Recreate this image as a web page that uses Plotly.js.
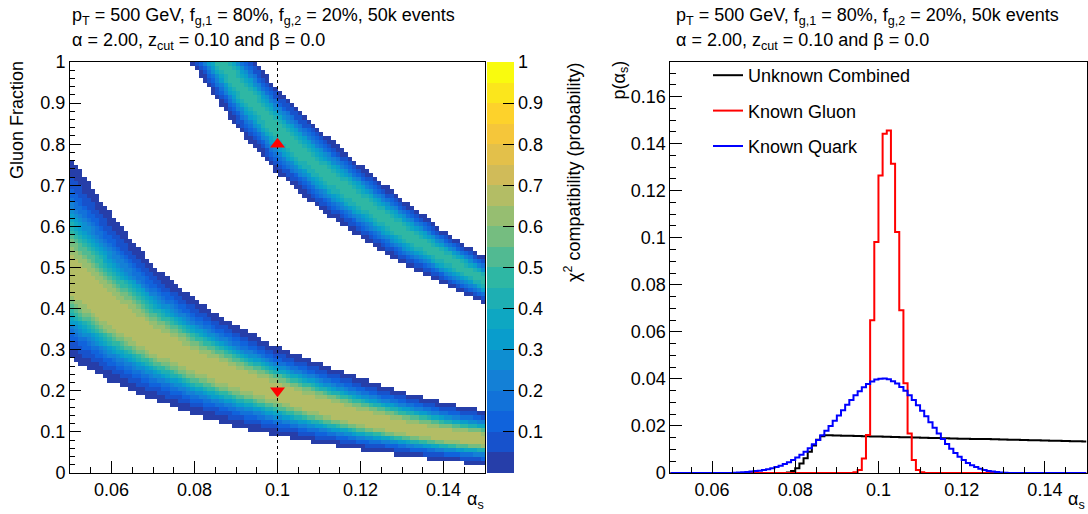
<!DOCTYPE html>
<html><head><meta charset="utf-8">
<script src="https://cdn.plot.ly/plotly-3.0.1.min.js"></script>
<style>html,body{margin:0;padding:0;background:#fff;}#chart{width:1088px;height:514px;}</style>
</head><body><div id="chart"></div>
<script>
// ---------------- data ----------------
// right panel: p(alpha_s) histograms, 100 bins on [0.05, 0.15]
const histRange = [0.05, 0.15];
const histBinCount = 100;

const combinedStartBin = 28;   // Unknown Combined (black)
const combinedValues = [
  0.0002,0.0008,0.0020,0.0040,0.0063,0.0090,0.0117,0.0141,0.0156,
  0.0160,0.0160,0.0159,0.0159,0.0158,0.0158,0.0158,0.0157,0.0157,0.0156,
  0.0156,0.0155,0.0155,0.0155,0.0154,0.0154,0.0153,0.0153,0.0152,0.0152,
  0.0152,0.0151,0.0151,0.0150,0.0150,0.0149,0.0149,0.0149,0.0148,0.0148,
  0.0147,0.0147,0.0146,0.0146,0.0146,0.0145,0.0145,0.0144,0.0144,0.0144,
  0.0143,0.0143,0.0142,0.0142,0.0141,0.0141,0.0141,0.0140,0.0140,0.0139,
  0.0139,0.0139,0.0138,0.0138,0.0137,0.0137,0.0137,0.0136,0.0136,0.0135,
  0.0135,0.0135,0.0134
];

const gluonStartBin = 44;      // Known Gluon (red)
const gluonValues = [
  0.0003,0.0013,0.0062,0.0161,0.0649,0.0982,0.1265,0.1442,0.1456,
  0.1315,0.1024,0.0692,0.0381,0.0168,0.0055,0.0013,0.0003
];

const quarkStartBin = 15;      // Known Quark (blue)
const quarkValues = [
  0.0001,0.0002,0.0003,0.0004,0.0006,0.0008,0.0010,0.0013,0.0016,0.0020,
  0.0025,0.0031,0.0038,0.0046,0.0055,0.0066,0.0078,0.0090,0.0105,0.0122,
  0.0140,0.0160,0.0180,0.0200,0.0222,0.0244,0.0267,0.0290,0.0310,0.0330,
  0.0348,0.0364,0.0378,0.0389,0.0397,0.0401,0.0402,0.0398,0.0390,0.0380,
  0.0366,0.0350,0.0331,0.0310,0.0288,0.0265,0.0241,0.0216,0.0192,0.0168,
  0.0145,0.0123,0.0103,0.0085,0.0069,0.0055,0.0043,0.0033,0.0025,0.0018,
  0.0013,0.0009,0.0006,0.0004,0.0002,0.0001
];

const legendNames = ['Unknown Combined', 'Known Gluon', 'Known Quark'];

// left panel: chi2 compatibility map, 100 x 100 bins
const mapAlphaRange = [0.05, 0.15];
const mapFracRange = [0, 1];
const mapAlphaBins = 100;
const mapFracBins = 100;
// band geometry read at these alpha_s values (edges where the map becomes empty, and ridge)
const bandAlpha       = [0.05, 0.06, 0.07, 0.08, 0.09, 0.10, 0.11, 0.12, 0.13, 0.14, 0.15];
const lowerBandTop    = [0.770,0.630,0.506,0.423,0.358,0.307,0.268,0.230,0.199,0.172,0.150];
const lowerBandRidge  = [0.475,0.385,0.320,0.270,0.230,0.195,0.162,0.133,0.110,0.092,0.080];
const lowerBandBottom = [0.279,0.222,0.178,0.142,0.113,0.090,0.071,0.055,0.042,0.030,0.020];
const upperBandTop    = [2.00, 1.70, 1.42, 1.20, 1.06, 0.936,0.838,0.750,0.668,0.590,0.523];
const upperBandRidge  = [1.80, 1.54, 1.29, 1.09, 0.95, 0.833,0.740,0.662,0.588,0.525,0.467];
const upperBandBottom = [1.60, 1.38, 1.17, 0.985,0.843,0.729,0.642,0.573,0.508,0.459,0.411];
const lowerBandPeak = 0.695;
const upperBandPeak = 0.47;
const bandEdgeProb = 0.015;
const bandShape = 2.5;

const trueAlpha = 0.1;
const trueFractions = [0.8, 0.2];

const leftXTicks = [0.06, 0.08, 0.1, 0.12, 0.14];
const leftYTicks = [0, 0.1, 0.2, 0.3, 0.4, 0.5, 0.6, 0.7, 0.8, 0.9, 1];
const rightYTicks = [0, 0.02, 0.04, 0.06, 0.08, 0.1, 0.12, 0.14, 0.16];
const colorTicks = [0.1, 0.2, 0.3, 0.4, 0.5, 0.6, 0.7, 0.8, 0.9, 1];
const colorLevels = 20;

// ROOT kBird palette
const birdStops = [0.0000, 0.1250, 0.2500, 0.3750, 0.5000, 0.6250, 0.7500, 0.8750, 1.0000];
const birdR = [0.2082, 0.0592, 0.0780, 0.0232, 0.1802, 0.5301, 0.8186, 0.9956, 0.9764];
const birdG = [0.1664, 0.3599, 0.5041, 0.6419, 0.7178, 0.7492, 0.7328, 0.7862, 0.9832];
const birdB = [0.5293, 0.8684, 0.8385, 0.7914, 0.6425, 0.4662, 0.3499, 0.1968, 0.0539];

// ---------------- build ----------------
function lin(xs, ys, x) {
  if (x <= xs[0]) return ys[0];
  for (let k = 1; k < xs.length; k++) {
    if (x <= xs[k]) { const t = (x - xs[k-1]) / (xs[k] - xs[k-1]); return ys[k-1] + t * (ys[k] - ys[k-1]); }
  }
  return ys[ys.length - 1];
}
function birdColor(v) {
  const r = lin(birdStops, birdR, v), g = lin(birdStops, birdG, v), b = lin(birdStops, birdB, v);
  return 'rgb(' + Math.round(r*255) + ',' + Math.round(g*255) + ',' + Math.round(b*255) + ')';
}
const colorscale = [];
for (let i = 0; i < colorLevels; i++) {
  const c = birdColor((i + 0.99) / colorLevels);
  colorscale.push([i / colorLevels, c]);
  colorscale.push([(i + 1) / colorLevels, c]);
}

function bandValue(f, top, ridge, bottom, peak) {
  const t = f >= ridge ? (f - ridge) / (top - ridge) : (ridge - f) / (ridge - bottom);
  if (t > 1) return null;
  const k = Math.log(peak / bandEdgeProb);
  return peak * Math.exp(-k * Math.pow(t, bandShape));
}
const aw = (mapAlphaRange[1] - mapAlphaRange[0]) / mapAlphaBins;
const fw = (mapFracRange[1] - mapFracRange[0]) / mapFracBins;
const mapX = [], mapY = [];
for (let i = 0; i < mapAlphaBins; i++) mapX.push(mapAlphaRange[0] + (i + 0.5) * aw);
for (let j = 0; j < mapFracBins; j++) mapY.push(mapFracRange[0] + (j + 0.5) * fw);
const mapZ = mapY.map(f => mapX.map(a => {
  const lo = bandValue(f, lin(bandAlpha, lowerBandTop, a), lin(bandAlpha, lowerBandRidge, a), lin(bandAlpha, lowerBandBottom, a), lowerBandPeak);
  const up = bandValue(f, lin(bandAlpha, upperBandTop, a), lin(bandAlpha, upperBandRidge, a), lin(bandAlpha, upperBandBottom, a), upperBandPeak);
  if (lo === null && up === null) return null;
  return Math.max(lo || 0, up || 0);
}));

function fullHist(start, vals) {
  const a = new Array(histBinCount).fill(0);
  vals.forEach((v, k) => { a[start + k] = v; });
  return a;
}
const hw = (histRange[1] - histRange[0]) / histBinCount;
const edges = [];
for (let i = 0; i <= histBinCount; i++) edges.push(histRange[0] + i * hw);
function stepY(a) { return a.concat([a[a.length - 1]]); }

const W = 1088, H = 514;
const px = v => v / W, py = v => 1 - v / H;
const FONT = 'Liberation Sans, Arial, Helvetica, sans-serif';
const FS = 18;

const traces = [
  { type: 'heatmap', x: mapX, y: mapY, z: mapZ, zmin: 0, zmax: 1, colorscale: colorscale,
    xaxis: 'x', yaxis: 'y', hoverongaps: false, showlegend: false,
    colorbar: { x: px(487), xanchor: 'left', xpad: 0, ypad: 0, thickness: 27, thicknessmode: 'pixels',
      len: 411 / H, lenmode: 'fraction', y: py(473), yanchor: 'bottom', tickvals: colorTicks,
      ticks: 'inside', ticklen: 11, tickcolor: 'black', tickwidth: 1, outlinewidth: 0,
      tickfont: { size: FS, family: FONT, color: 'black' } } },
  { type: 'scatter', mode: 'lines', x: [trueAlpha, trueAlpha], y: mapFracRange, xaxis: 'x', yaxis: 'y',
    line: { color: 'black', width: 1, dash: 'dot' }, showlegend: false, hoverinfo: 'skip' },
  { type: 'scatter', mode: 'markers', x: [trueAlpha, trueAlpha], y: trueFractions, xaxis: 'x', yaxis: 'y',
    marker: { symbol: ['triangle-up', 'triangle-down'], color: '#ff0000', size: 13, line: { width: 0 } },
    showlegend: false },
  { type: 'scatter', mode: 'lines', name: legendNames[0], legendgroup: 'a', x: edges, y: stepY(fullHist(combinedStartBin, combinedValues)),
    xaxis: 'x2', yaxis: 'y2', line: { shape: 'hv', color: '#000000', width: 2 } },
  { type: 'scatter', mode: 'lines', name: legendNames[1], legendgroup: 'b', x: edges, y: stepY(fullHist(gluonStartBin, gluonValues)),
    xaxis: 'x2', yaxis: 'y2', line: { shape: 'hv', color: '#ff0000', width: 2 } },
  { type: 'scatter', mode: 'lines', name: legendNames[2], legendgroup: 'c', x: edges, y: stepY(fullHist(quarkStartBin, quarkValues)),
    xaxis: 'x2', yaxis: 'y2', line: { shape: 'hv', color: '#0000ff', width: 2 } }
];

function axisBase(extra) {
  return Object.assign({ showline: true, mirror: true, linecolor: 'black', linewidth: 1, showgrid: false, zeroline: false,
    ticks: 'inside', tickcolor: 'black', tickwidth: 1, tickfont: { size: FS, family: FONT, color: 'black' } }, extra);
}

const layout = {
  width: W, height: H, margin: { l: 0, r: 0, t: 0, b: 0 },
  paper_bgcolor: 'white', plot_bgcolor: 'white',
  font: { family: FONT, size: FS, color: 'black' },
  showlegend: true,
  legend: { x: px(708), y: py(57), xanchor: 'left', yanchor: 'top', bgcolor: 'rgba(0,0,0,0)', borderwidth: 0,
    traceorder: 'grouped', tracegroupgap: 9, font: { size: FS, family: FONT, color: 'black' } },
  xaxis: axisBase({ domain: [px(70), px(485)], range: mapAlphaRange, anchor: 'y', tickvals: leftXTicks, ticklen: 12,
    minor: { ticks: 'inside', ticklen: 6, dtick: 0.005, tick0: 0.05, tickcolor: 'black' } }),
  yaxis: axisBase({ domain: [1 - 473 / H, 1 - 62 / H], range: mapFracRange, anchor: 'x', tickvals: leftYTicks, ticklen: 11,
    minor: { ticks: 'inside', ticklen: 5, dtick: 0.02, tick0: 0, tickcolor: 'black' } }),
  xaxis2: axisBase({ domain: [px(670.4), px(1086.5)], range: histRange, anchor: 'y2', tickvals: leftXTicks, ticklen: 12,
    minor: { ticks: 'inside', ticklen: 6, dtick: 0.005, tick0: 0.05, tickcolor: 'black' } }),
  yaxis2: axisBase({ domain: [1 - 473 / H, 1 - 62 / H], range: [0, 0.1747], anchor: 'x2', tickvals: rightYTicks, ticklen: 12,
    minor: { ticks: 'inside', ticklen: 6, dtick: 0.005, tick0: 0, tickcolor: 'black' } }),
  annotations: []
};

const header1 = 'p<sub>T</sub> = 500 GeV, f<sub>g,1</sub> = 80%, f<sub>g,2</sub> = 20%, 50k events';
const header2 = '\u03b1 = 2.00, z<sub>cut</sub> = 0.10 and \u03b2 = 0.0';
function ann(text, x, y, xa, ya, angle) {
  layout.annotations.push({ text: text, xref: 'paper', yref: 'paper', x: px(x), y: py(y), xanchor: xa, yanchor: ya,
    showarrow: false, textangle: angle || 0, font: { size: FS, family: FONT, color: 'black' } });
}
ann(header1, 70, 3, 'left', 'top');
ann(header2, 70, 28, 'left', 'top');
ann(header1, 674, 3, 'left', 'top');
ann(header2, 674, 28, 'left', 'top');
ann('Gluon Fraction', 17, 59, 'center', 'top', -90);
ann('p(\u03b1<sub>s</sub>)', 620, 59, 'center', 'top', -90);
ann('\u03b1<sub>s</sub>', 486, 487, 'right', 'top');
ann('\u03b1<sub>s</sub>', 1087, 487, 'right', 'top');
ann('\u03c7<sup>2</sup> compatibility (probability)', 572, 60, 'center', 'top', -90);

Plotly.newPlot('chart', traces, layout, { displayModeBar: false, staticPlot: true });
</script>
</body></html>
